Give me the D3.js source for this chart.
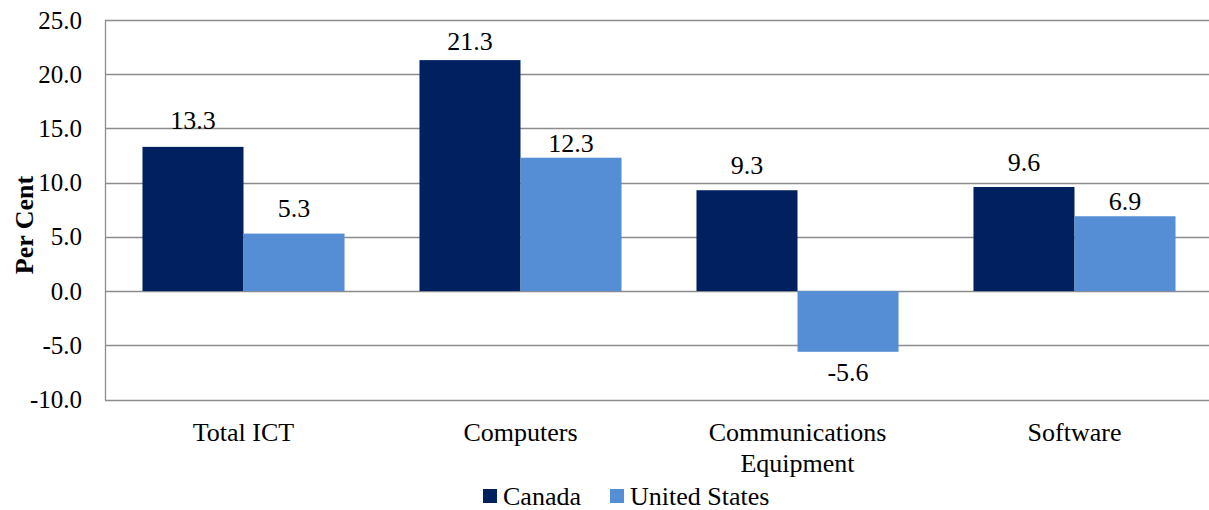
<!DOCTYPE html>
<html>
<head>
<meta charset="utf-8">
<script src="https://cdn.jsdelivr.net/npm/d3@7"></script>
<style>
  html, body { margin: 0; padding: 0; background: #fff; }
  svg { display: block; }
  text { font-family: "Liberation Serif", "Times New Roman", serif; fill: #000; }
</style>
</head>
<body>
<svg id="chart" width="1209" height="510"></svg>
<script>
// Growth of ICT investment, per cent
const categories = [["Total ICT"], ["Computers"], ["Communications", "Equipment"], ["Software"]];
const seriesNames = ["Canada", "United States"];
const canadaValues = [13.3, 21.3, 9.3, 9.6];
const usValues = [5.3, 12.3, -5.6, 6.9];
const yTicks = [-10, -5, 0, 5, 10, 15, 20, 25];
const colors = ["#002060", "#558ED5"];

const svg = d3.select("#chart");
const plotLeft = 105, plotRight = 1213, plotTop = 20, plotBottom = 399.5;

const x = d3.scaleBand().domain(d3.range(categories.length)).range([plotLeft, plotRight]);
const inner = d3.scaleBand().domain(seriesNames).range([0, x.bandwidth()])
  .paddingInner(0).paddingOuter(0.371);
const y = d3.scaleLinear().domain([-10, 25]).range([plotBottom, plotTop]);
const fmt = d => d.toFixed(1);

// gridlines
svg.append("g").selectAll("line").data(yTicks).join("line")
  .attr("x1", plotLeft).attr("x2", plotRight)
  .attr("y1", d => Math.round(y(d)) + 0.5).attr("y2", d => Math.round(y(d)) + 0.5)
  .attr("stroke", "#8c8c8c").attr("stroke-width", 1.3);

// y axis line
svg.append("line").attr("x1", plotLeft + 0.5).attr("x2", plotLeft + 0.5)
  .attr("y1", plotTop).attr("y2", plotBottom + 0.5)
  .attr("stroke", "#8c8c8c").attr("stroke-width", 1.3);

// y tick labels
svg.append("g").selectAll("text").data(yTicks).join("text")
  .attr("x", 82).attr("y", d => y(d)).attr("dy", "0.34em")
  .attr("text-anchor", "end").style("font-size", "25px")
  .text(fmt);

// y axis title
svg.append("text").attr("transform", "translate(33,225) rotate(-90)")
  .attr("text-anchor", "middle").style("font-size", "26px").style("font-weight", "bold")
  .text("Per Cent");

// label offsets from the bar end (px), per series
const labelNudge = [[-18, -10, -16, -16], [-17, -6, 29, -6]];

const series = [canadaValues, usValues];
series.forEach((vals, si) => {
  const g = svg.append("g");
  g.selectAll("rect").data(vals).join("rect")
    .attr("x", (d, i) => x(i) + inner(seriesNames[si]))
    .attr("width", inner.bandwidth())
    .attr("y", d => y(Math.max(0, d)))
    .attr("height", d => Math.abs(y(d) - y(0)))
    .attr("fill", colors[si]);
  g.selectAll("text").data(vals).join("text")
    .attr("x", (d, i) => x(i) + inner(seriesNames[si]) + inner.bandwidth() / 2)
    .attr("y", (d, i) => y(d) + labelNudge[si][i])
    .attr("text-anchor", "middle").style("font-size", "26px")
    .text(fmt);
});

// category labels
const cat = svg.append("g").selectAll("text").data(categories).join("text")
  .attr("x", (d, i) => x(i) + x.bandwidth() / 2)
  .attr("y", 441)
  .attr("text-anchor", "middle").style("font-size", "26px");
cat.selectAll("tspan").data(d => d).join("tspan")
  .attr("x", function() { return d3.select(this.parentNode).attr("x"); })
  .attr("dy", (d, i) => i === 0 ? 0 : 31)
  .text(d => d);

// legend
const legendX = [483, 610];
const lg = svg.append("g").selectAll("g").data(seriesNames).join("g")
  .attr("transform", (d, i) => `translate(${legendX[i]},489)`);
lg.append("rect").attr("width", 14).attr("height", 14).attr("fill", (d, i) => colors[i]);
lg.append("text").attr("x", 20).attr("y", 16)
  .style("font-size", "26px").text(d => d);
</script>
</body>
</html>
